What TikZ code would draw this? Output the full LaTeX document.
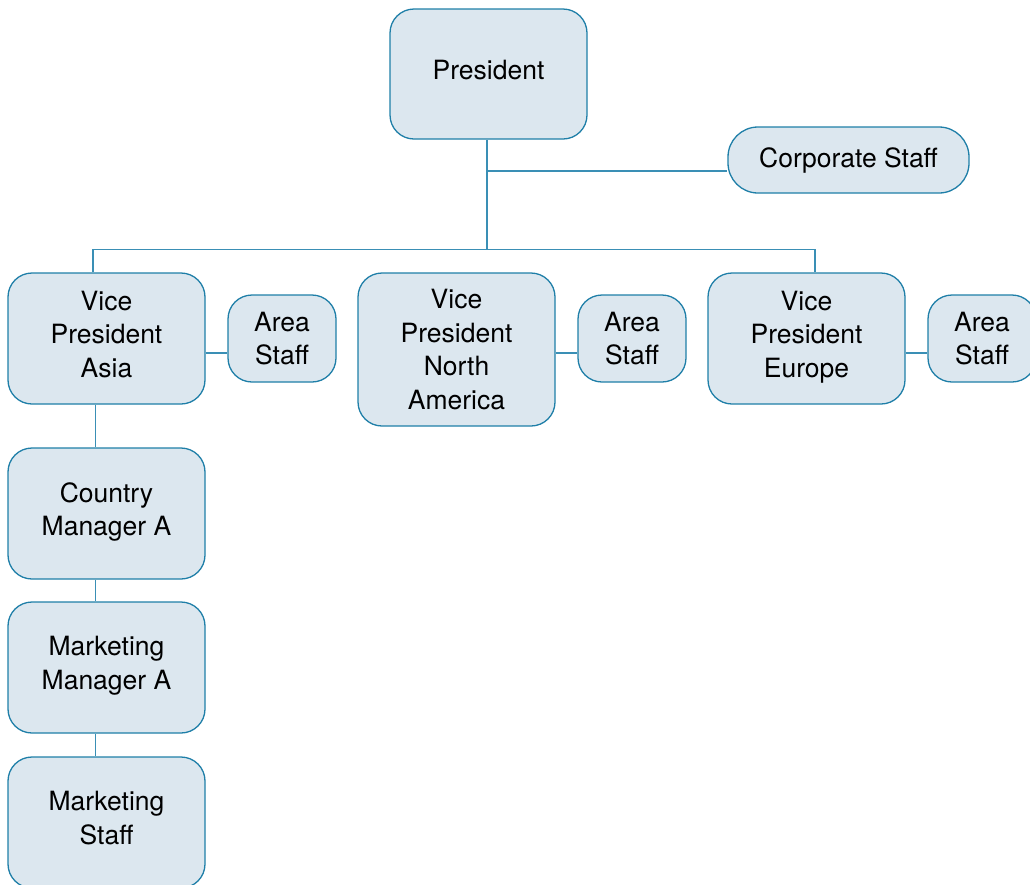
\documentclass[tikz,border=0pt]{standalone}
\usepackage{fontspec}
\setmainfont{TeX Gyre Heros}
\definecolor{boxfill}{HTML}{DCE7EF}
\definecolor{boxline}{HTML}{1F7FA8}
\definecolor{wire}{HTML}{3A8FB5}
\begin{document}
\begin{tikzpicture}[x=1pt,y=-1pt,line width=1.1pt,
  box/.style={draw=boxline,fill=boxfill,line width=1.3pt,rounded corners=24pt,align=center,inner sep=0pt,
    minimum width=197pt,minimum height=131pt,text depth=9pt,font=\fontsize{26.5}{33.5}\selectfont},
  small/.style={box,minimum width=108pt,minimum height=87pt,text depth=0pt},
  link/.style={draw=wire,line width=1.1pt}]
\useasboundingbox (0,0) rectangle (1030,884);
\node[box,minimum height=130pt] (pres) at (488.5,74) {President};
\node[box,minimum width=241pt,minimum height=66pt,rounded corners=30pt,text depth=5.6pt] (corp) at (848.5,160) {Corporate Staff};
\node[box] (vpa) at (106.5,338.5) {Vice\\President\\Asia};
\node[small] (asa) at (282,338.5) {Area\\Staff};
\node[box,minimum height=153pt,text depth=0pt] (vpna) at (456.5,349.5) {Vice\\President\\North\\America};
\node[small] (asna) at (632,338.5) {Area\\Staff};
\node[box] (vpe) at (806.5,338.5) {Vice\\President\\Europe};
\node[small] (ase) at (982,338.5) {Area\\Staff};
\node[box] (cma) at (106.5,513.5) {Country\\Manager A};
\node[box] (mma) at (106.5,667.5) {Marketing\\Manager A};
\node[box] (ms) at (106.5,822.5) {Marketing\\Staff};
% connectors
\coordinate (bar) at (487,250);
\coordinate (cs) at ([yshift=-11pt]corp.west);
\coordinate (jn) at (bar |- cs);
\draw[link] (pres.south -| bar) -- (bar);
\draw[link] (jn) -- (cs);
\draw[link] ([xshift=-13.5pt]vpa.north) -- ++(0,-23) -| ([xshift=8.5pt]vpe.north);
\draw[link] ([yshift=-14.5pt]vpa.east) -- ([yshift=-14.5pt]asa.west);
\draw[link] ([yshift=-3.5pt]vpna.east) -- ([yshift=-14.5pt]asna.west);
\draw[link] ([yshift=-14.5pt]vpe.east) -- ([yshift=-14.5pt]ase.west);
\draw[link] ([xshift=-11pt]vpa.south) -- ([xshift=-11pt]cma.north);
\draw[link] ([xshift=-11pt]cma.south) -- ([xshift=-11pt]mma.north);
\draw[link] ([xshift=-11pt]mma.south) -- ([xshift=-11pt]ms.north);
\end{tikzpicture}
\end{document}
